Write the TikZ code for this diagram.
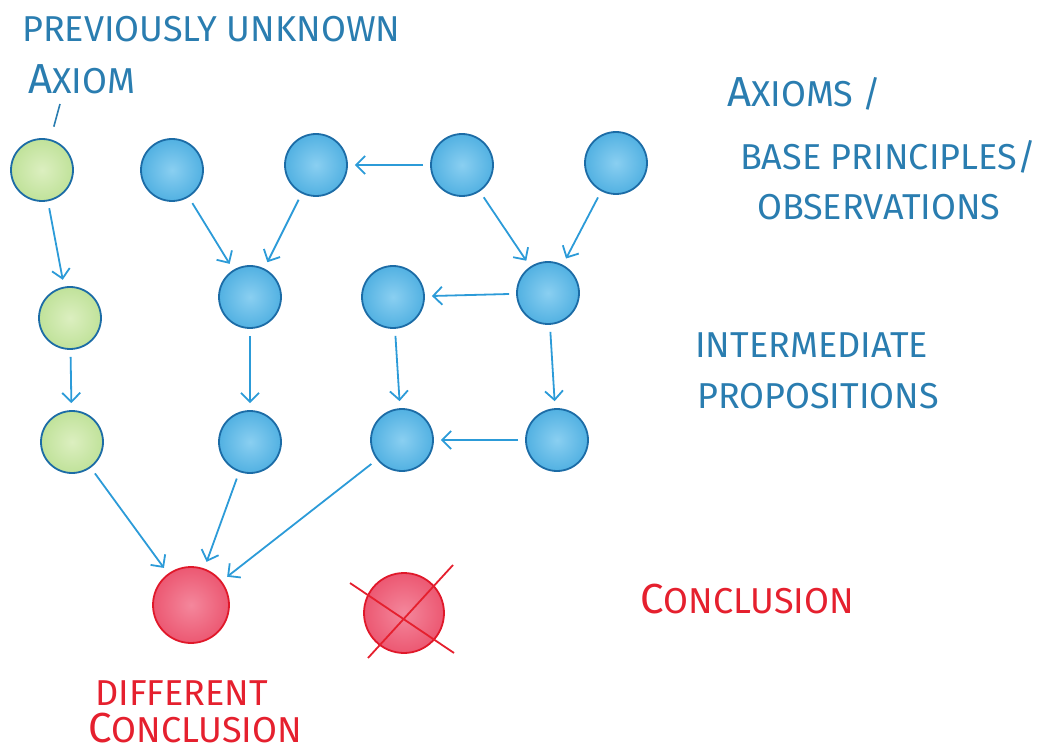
\documentclass[tikz,border=0pt]{standalone}
\usepackage{fontspec}
\setmainfont{Fira Sans}
\usetikzlibrary{arrows.meta, calc}

\definecolor{inkblue}{HTML}{2A7DB0}
\definecolor{inkred}{HTML}{E5202E}
\definecolor{arrowblue}{HTML}{2C9BD8}
\definecolor{rimblue}{HTML}{1C6CA6}
\definecolor{rimred}{HTML}{E0182A}
\definecolor{bluein}{HTML}{8ACFF1}
\definecolor{blueout}{HTML}{52B1E2}
\definecolor{greenin}{HTML}{DCEFC0}
\definecolor{greenout}{HTML}{C0E29A}
\definecolor{redin}{HTML}{F4879C}
\definecolor{redout}{HTML}{EC5872}

% larger first letter of a small-caps word
\newcommand\initial[1]{{\fontsize{42}{46}\selectfont #1}}

\begin{document}
\begin{tikzpicture}[x=1pt, y=-1pt,
  ball/.style={circle, minimum size=62pt, inner sep=0pt, line width=1.8pt},
  axiom/.style={ball, draw=rimblue, shading=radial, inner color=greenin, outer color=greenout},
  prop/.style={ball, draw=rimblue, shading=radial, inner color=bluein, outer color=blueout},
  concl/.style={ball, minimum size=76pt, draw=rimred, shading=radial, inner color=redin, outer color=redout},
  arrow/.style={draw=arrowblue, line width=1.8pt, -{Straight Barb[length=9pt, width=18pt, line width=1.8pt]}, shorten >=7pt, shorten <=7pt},
  note/.style={anchor=base west, inner sep=0pt, font=\fontsize{36}{42}\selectfont},
  bluenote/.style={note, text=inkblue},
  rednote/.style={note, text=inkred}
]
\useasboundingbox (0,0) rectangle (1037,754);

% first row
\node (a1) [axiom] at (42,170) {};
\node (b1) [prop] at (172,170) {};
\node (b2) [prop] at (316,165) {};
\node (b3) [prop] at (462,165) {};
\node (b4) [prop] at (616,163) {};

% second row
\node (a2) [axiom] at (70,318) {};
\node (m1) [prop] at (250,297) {};
\node (m2) [prop] at (393,297) {};
\node (m3) [prop] at (548,293) {};

% third row
\node (a3) [axiom] at (72,442) {};
\node (n1) [prop] at (250,442) {};
\node (n2) [prop] at (402,440) {};
\node (n3) [prop] at (557,440) {};

% conclusions
\node (c1) [concl] at (191,605) {};
\node (c2) [concl, minimum size=80pt] at (404,613) {};
\draw [inkred, line width=1.8pt] ($(c2)+(-54,-30)$) -- ($(c2)+(50,40)$);
\draw [inkred, line width=1.8pt] ($(c2)+(49,-48)$) -- ($(c2)+(-36,45)$);

\draw [arrow] (a1) -- (a2);
\draw [arrow] (a2) -- (a3);
\draw [arrow] (b1) -- (m1);
\draw [arrow] (b2) -- (m1);
\draw [arrow] (b3) -- (b2);
\draw [arrow] (b3) -- (m3);
\draw [arrow] (b4) -- (m3);
\draw [arrow] (m3) -- (m2);
\draw [arrow] (m1) -- (n1);
\draw [arrow] (m2) -- (n2);
\draw [arrow] (m3) -- (n3);
\draw [arrow] (n3) -- (n2);
\draw [arrow] (a3) -- (c1);
\draw [arrow] (n1) -- (c1);
\draw [arrow] (n2) -- (c1);

% labels
\node (unknown) [bluenote] at (22,42) {PREVIOUSLY UNKNOWN};
\node (axlabel) [bluenote] at (28,94) {\initial{A}XIOM};
\coordinate (tick) at (60,104);
\draw [inkblue, line width=1.6pt, shorten >=13pt] (tick) -- (a1);

\node (axioms) [bluenote] at (727,107) {\initial{A}XIOMS /};
\node (base) [bluenote] at (740,170) {BASE PRINCIPLES/};
\node (obs) [bluenote] at (757,220) {OBSERVATIONS};

\node (inter) [bluenote] at (695,357) {INTERMEDIATE};
\node (props) [bluenote] at (697,408) {PROPOSITIONS};

\node (concl) [rednote] at (640,613) {\initial{C}ONCLUSION};
\node (diff) [rednote] at (95,705) {DIFFERENT};
\node (diffc) [rednote] at (88,742) {\initial{C}ONCLUSION};
\end{tikzpicture}
\end{document}
